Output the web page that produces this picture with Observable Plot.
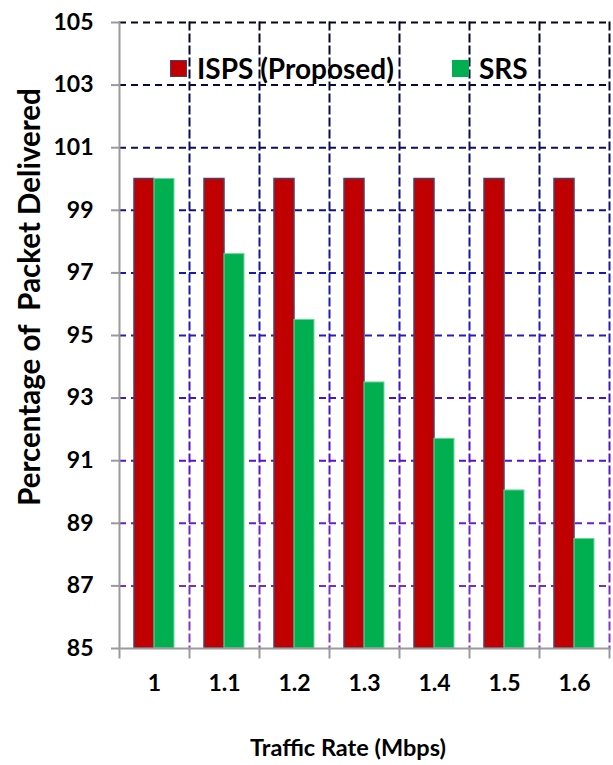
<!DOCTYPE html>
<html><head><meta charset="utf-8">
<script src="https://cdn.jsdelivr.net/npm/d3@7"></script>
<script src="https://cdn.jsdelivr.net/npm/@observablehq/plot@0.6"></script>
<style>
body{margin:0;background:#fff;}
#wrap{position:relative;width:613px;height:765px;font-family:Lato,sans-serif;font-weight:bold;color:#000;overflow:hidden;}
#wrap svg text{font-family:Lato,sans-serif;font-weight:bold;}
.leg{position:absolute;display:flex;align-items:center;font-size:28px;line-height:1;white-space:nowrap;}
.sw{width:15px;height:15px;margin-right:10px;box-sizing:content-box;}
#xtitle{position:absolute;top:736px;left:248px;width:200px;text-align:center;font-size:23.5px;line-height:1;white-space:nowrap;}
#ytitle{position:absolute;left:29px;top:297px;transform:translate(-50%,-50%) rotate(-90deg);font-size:29.5px;line-height:1;white-space:pre;}
</style></head><body><div id="wrap"></div>
<script>
const rates = ["1","1.1","1.2","1.3","1.4","1.5","1.6"];
const seriesNames = ["ISPS (Proposed)","SRS"];
const ispsValues = [100,100,100,100,100,100,100];
const srsValues = [100,97.6,95.5,93.5,91.7,90.05,88.5];
const yTicks = [85,87,89,91,93,95,97,99,101,103,105];
const seriesColors = ["#C00000","#00B050"];
const seriesStrokes = ["#4d3f68","#6fd59a"];
const yTitle = "Percentage of  Packet Delivered";
const xTitle = "Traffic Rate (Mbps)";

const rows = rates.flatMap((r,i)=>[
  {rate:r, series:seriesNames[0], value:ispsValues[i]},
  {rate:r, series:seriesNames[1], value:srsValues[i]}
]);
const yMin = yTicks[0], yMax = yTicks[yTicks.length-1];
const W = 613, H = 765, mT = 22, mB = 117, mL = 116, mR = 2;
const grid = "url(#gridGrad)";
const dash = "7,5";

const plot = Plot.plot({
  width: W, height: H,
  marginTop: mT, marginBottom: mB, marginLeft: mL, marginRight: mR,
  style: {fontFamily: "Lato, sans-serif", fontSize: "23px", fontWeight: "bold", color: "#000", background: "#fff"},
  fx: {domain: rates, padding: 0},
  x: {domain: seriesNames, paddingInner: 0, paddingOuter: 0.72, axis: null},
  y: {domain: [yMin, yMax]},
  marks: [
    Plot.gridY(yTicks.slice(1), {stroke: grid, strokeOpacity: 1, strokeWidth: 2, strokeDasharray: dash}),
    Plot.frame({anchor: "right", stroke: grid, strokeWidth: 2, strokeDasharray: dash}),
    Plot.barY(rows.filter(d => d.series === seriesNames[0]), {fx: "rate", x: "series", y1: yMin, y2: "value", fill: seriesColors[0], stroke: seriesStrokes[0], strokeWidth: 1.5}),
    Plot.barY(rows.filter(d => d.series === seriesNames[1]), {fx: "rate", x: "series", y1: yMin, y2: "value", fill: seriesColors[1], stroke: seriesStrokes[1], strokeWidth: 1}),
    Plot.ruleY([yMin], {stroke: "#9a9a9a", strokeWidth: 2}),
    Plot.frame({anchor: "right", stroke: "#9a9a9a", strokeWidth: 2, insetTop: H - mT - mB, insetBottom: -9}),
    Plot.frame({anchor: "left", facetAnchor: "left", stroke: "#9a9a9a", strokeWidth: 2, insetBottom: -9}),
    Plot.axisY({ticks: yTicks, tickSize: 8, tickPadding: 18, stroke: "#9a9a9a", strokeWidth: 2, fill: "#000", fontSize: 23, fontWeight: "bold", label: null}),
    Plot.axisFx({anchor: "bottom", tickSize: 0, tickPadding: 26, fill: "#000", fontSize: 23, fontWeight: "bold", label: null})
  ]
});

const svg = d3.select(plot);
const defs = svg.insert("defs", ":first-child");
const g = defs.append("linearGradient").attr("id", "gridGrad")
  .attr("gradientUnits", "userSpaceOnUse").attr("x1", 0).attr("y1", mT).attr("x2", 0).attr("y2", H - mB);
[[0, "#05051e"], [0.2, "#0c0c62"], [0.45, "#1c1cc0"], [0.7, "#5a10d0"], [1, "#8a3ac4"]]
  .forEach(([o, c]) => g.append("stop").attr("offset", o).attr("stop-color", c));

const wrap = document.getElementById("wrap");
wrap.appendChild(plot);

const legendPos = [{left: 170, top: 54}, {left: 452, top: 54}];
seriesNames.forEach((name, i) => {
  const d = document.createElement("div");
  d.className = "leg";
  d.style.left = legendPos[i].left + "px";
  d.style.top = legendPos[i].top + "px";
  const sw = document.createElement("span");
  sw.className = "sw";
  sw.style.background = seriesColors[i];
  sw.style.border = i === 0 ? "1.5px solid " + seriesStrokes[0] : "1px solid " + seriesColors[i];
  const t = document.createElement("span");
  t.textContent = name;
  d.appendChild(sw); d.appendChild(t);
  wrap.appendChild(d);
});

const xt = document.createElement("div");
xt.id = "xtitle";
xt.textContent = xTitle;
wrap.appendChild(xt);

const yt = document.createElement("div");
yt.id = "ytitle";
yt.textContent = yTitle;
wrap.appendChild(yt);
</script>
</body></html>
